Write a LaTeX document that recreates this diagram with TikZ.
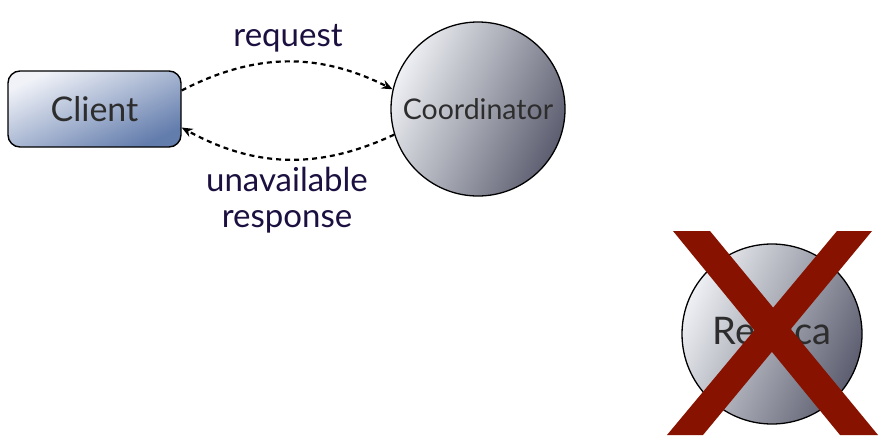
\documentclass[tikz,border=0pt]{standalone}
\usepackage{fontspec}
\setmainfont{Lato}
\usetikzlibrary{arrows.meta}
\definecolor{cllight}{RGB}{240,242,248}
\definecolor{cldark}{RGB}{98,124,172}
\definecolor{cirlight}{RGB}{238,240,244}
\definecolor{cirdark}{RGB}{92,94,112}
\definecolor{labelcol}{RGB}{28,16,64}
\definecolor{nodetext}{RGB}{45,45,45}
\definecolor{xred}{RGB}{136,18,0}
\tikzset{
  clientbox/.style={draw=black, line width=1.4pt, rounded corners=12pt,
    minimum width=173pt, minimum height=76pt, top color=cllight, bottom color=cldark,
    shading angle=25, text=nodetext, font=\fontsize{34}{38}\selectfont},
  servercircle/.style={draw=black, line width=1.3pt, circle, inner sep=0pt,
    top color=cirlight, bottom color=cirdark, shading angle=65, text=nodetext},
  msg/.style={dashed, dash pattern=on 5pt off 4pt, line width=2.2pt,
    -{Stealth[length=11pt,width=9pt]}},
  msglabel/.style={text=labelcol, font=\fontsize{33}{36}\selectfont, align=center}
}
\begin{document}
\begin{tikzpicture}[x=1pt,y=1pt]
\useasboundingbox (0,0) rectangle (890,-447);
\node[clientbox] (cl) at (94.5,-109) {Client};
\node[servercircle, minimum size=174pt, font=\fontsize{28.5}{32}\selectfont] (co) at (478,-109) {Coordinator};
\node[servercircle, minimum size=180pt, font=\fontsize{38}{42}\selectfont] (re) at (772,-334) {Replica};
\draw[msg] (cl.12) to[bend left=27] (co.167);
\draw[msg] (co.197) to[bend left=27] (cl.-12);
\node[msglabel] (lreq) at (288,-38) {request};
\node[msglabel] (lresp) at (287,-200) {unavailable\\response};
\fill[xred] (673,-231) -- (710,-231) -- (878,-435) -- (840,-435) -- cycle;
\fill[xred] (837,-231) -- (872,-231) -- (703,-435) -- (667,-435) -- cycle;
\end{tikzpicture}
\end{document}
